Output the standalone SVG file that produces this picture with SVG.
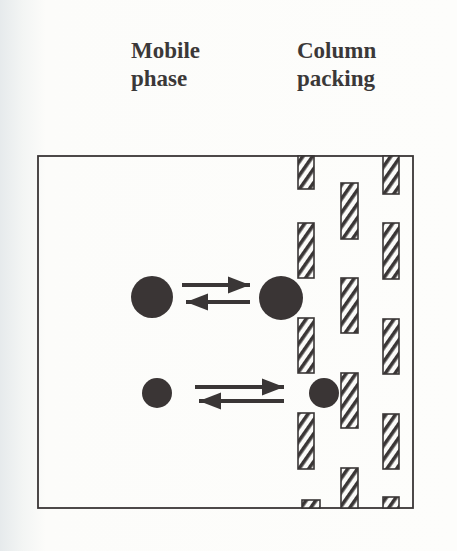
<svg xmlns="http://www.w3.org/2000/svg" width="457" height="551" viewBox="0 0 457 551">
<defs>
<linearGradient id="bg" x1="0" x2="1" y1="0" y2="0">
<stop offset="0" stop-color="#e6eaec"/>
<stop offset="0.05" stop-color="#f3f5f4"/>
<stop offset="0.1" stop-color="#fcfcfa"/>
<stop offset="1" stop-color="#fdfdfb"/>
</linearGradient>
<pattern id="hatch" patternUnits="userSpaceOnUse" width="8" height="8" patternTransform="rotate(35)">
<rect width="8" height="8" fill="#fbfbf9"/>
<rect width="3.6" height="8" fill="#3a3636"/>
</pattern>
<marker id="ah" markerUnits="userSpaceOnUse" markerWidth="23" markerHeight="19" refX="22" refY="9.5" orient="auto">
<path d="M0,1 L22,9.5 L0,18 Z" fill="#3a3636"/>
</marker>
</defs>
<style>
.lbl{font-family:"Liberation Serif","Times New Roman",serif;font-weight:bold;font-size:23px;fill:#3b3838}
.pk{fill:url(#hatch);stroke:#3a3636;stroke-width:1.6}
.dot{fill:#3a3535}
.arr{stroke:#3a3636;stroke-width:4;fill:none;marker-end:url(#ah)}
</style>
<rect width="457" height="551" fill="url(#bg)"/>
<g id="labels">
<text class="lbl" x="131" y="58">Mobile</text>
<text class="lbl" x="131" y="86">phase</text>
<text class="lbl" x="297" y="58">Column</text>
<text class="lbl" x="297" y="86">packing</text>
</g>
<g id="column">
<rect x="38" y="156" width="375" height="352" fill="none" stroke="#3a3636" stroke-width="1.8"/>
</g>
<g id="packing">
<rect class="pk" x="298" y="156" width="16" height="33"/>
<rect class="pk" x="298" y="223" width="16" height="55"/>
<rect class="pk" x="298" y="318" width="16" height="55"/>
<rect class="pk" x="298" y="413" width="16" height="56"/>
<rect class="pk" x="302" y="500" width="18" height="8"/>
<rect class="pk" x="341" y="183" width="17" height="56"/>
<rect class="pk" x="341" y="278" width="17" height="55"/>
<rect class="pk" x="341" y="373" width="17" height="55"/>
<rect class="pk" x="341" y="468" width="17" height="40"/>
<rect class="pk" x="383" y="156" width="16" height="38"/>
<rect class="pk" x="383" y="223" width="16" height="56"/>
<rect class="pk" x="383" y="319" width="16" height="55"/>
<rect class="pk" x="383" y="414" width="16" height="55"/>
<rect class="pk" x="383" y="497" width="16" height="11"/>
</g>
<g id="large-mobile"><circle class="dot" cx="152" cy="297" r="21"/></g>
<g id="large-bound"><circle class="dot" cx="281" cy="298" r="22"/></g>
<g id="small-mobile"><circle class="dot" cx="157" cy="393" r="15"/></g>
<g id="small-bound"><circle class="dot" cx="324" cy="393" r="15"/></g>
<g id="connectors">
<line class="arr" x1="182" y1="285" x2="250" y2="285"/>
<line class="arr" x1="250" y1="302" x2="186" y2="302"/>
<line class="arr" x1="195" y1="387" x2="284" y2="387"/>
<line class="arr" x1="284" y1="401" x2="199" y2="401"/>
</g>
</svg>
